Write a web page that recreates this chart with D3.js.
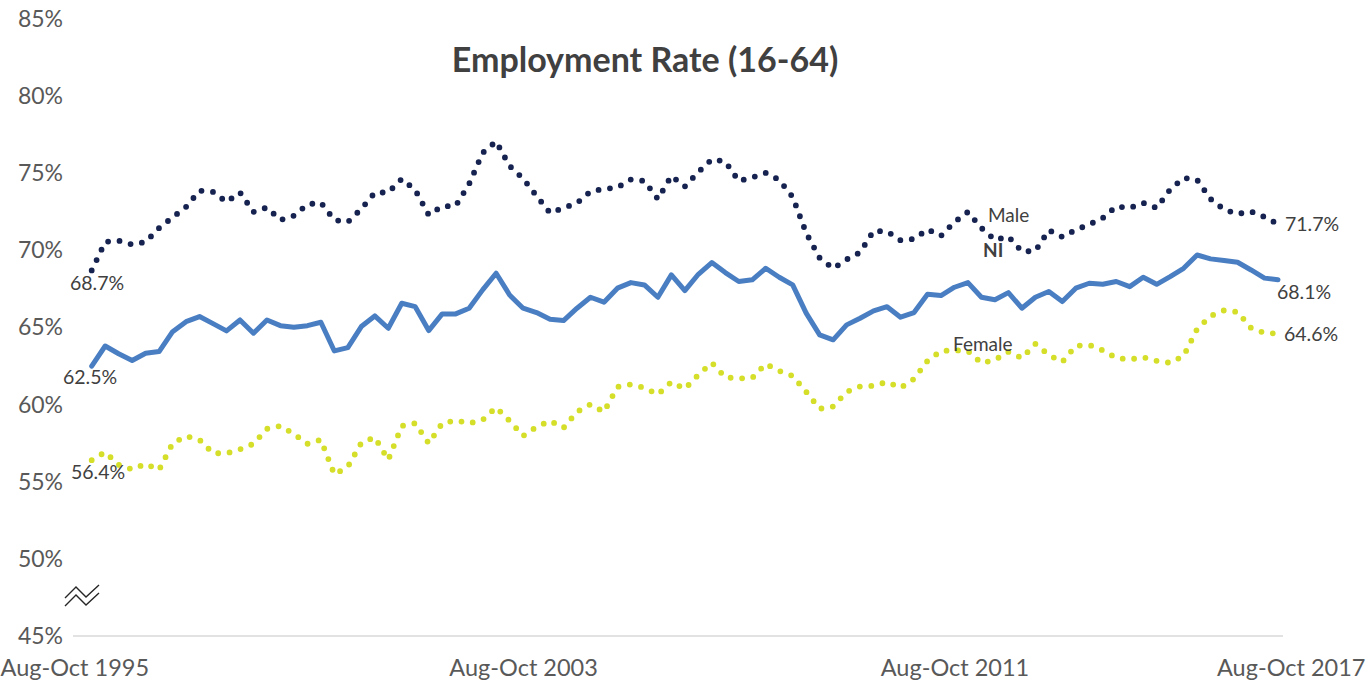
<!DOCTYPE html>
<html lang="en">
<head>
  <meta charset="utf-8" />
  <title>Employment Rate (16-64)</title>
  <style>
    body { margin: 0; background: #fff; }
    svg text { font-family: Lato, "Open Sans", sans-serif; }
  </style>
  <script src="https://d3js.org/d3.v7.min.js"></script>
</head>
<body>
<script>

// quarterly periods, Aug-Oct 1995 to Aug-Oct 2017
const periods = ["Aug-Oct", "Nov-Jan", "Feb-Apr", "May-Jul"];
const startYear = 1995, endYear = 2017;

const tickLabels = ["Aug-Oct 1995", "Aug-Oct 2003", "Aug-Oct 2011", "Aug-Oct 2017"];
const yTicks = [45, 50, 55, 60, 65, 70, 75, 80, 85];

const niValues = [62.5, 63.8, 63.3, 62.86, 63.33, 63.44, 64.73, 65.38, 65.71, 65.25,
  64.78, 65.49, 64.63, 65.49, 65.12, 65.02, 65.12, 65.34, 63.48, 63.7,
  65.06, 65.75, 64.95, 66.57, 66.35, 64.8, 65.88, 65.88, 66.25, 67.44,
  68.52, 67.11, 66.25, 65.97, 65.54, 65.45, 66.25, 66.96, 66.64, 67.55,
  67.91, 67.76, 66.96, 68.41, 67.39, 68.45, 69.21, 68.56, 67.98, 68.09,
  68.84, 68.26, 67.76, 65.93, 64.52, 64.2, 65.17, 65.6, 66.08, 66.35,
  65.67, 65.97, 67.16, 67.07, 67.61, 67.91, 66.96, 66.8, 67.26, 66.25,
  66.96, 67.33, 66.68, 67.55, 67.87, 67.8, 67.98, 67.65, 68.26, 67.8,
  68.3, 68.84, 69.7, 69.45, 69.34, 69.23, 68.73, 68.2, 68.1];

const maleValues = [68.7, 70.55, 70.63, 70.38, 70.55, 71.45, 72.14, 72.82, 73.87, 73.79,
  73.14, 73.76, 72.49, 72.78, 71.97, 72.25, 72.98, 73.1, 71.97, 71.84,
  72.69, 73.74, 73.76, 74.63, 73.92, 72.3, 72.86, 72.88, 74.31, 76.32,
  77.06, 75.47, 74.66, 73.53, 72.43, 72.75, 73.07, 73.82, 73.98, 74.08,
  74.6, 74.5, 73.33, 74.83, 74.14, 75.08, 75.9, 75.76, 74.5, 74.73,
  75.02, 74.57, 73.46, 71.13, 69.51, 68.83, 69.41, 69.87, 71.26, 71.23,
  70.65, 70.74, 71.36, 70.94, 71.84, 72.49, 71.45, 70.68, 70.9, 69.93,
  69.96, 71.31, 70.87, 71.33, 71.68, 72.1, 72.85, 72.75, 73.08, 72.75,
  73.95, 74.7, 74.57, 73.33, 72.65, 72.36, 72.52, 72.17, 71.7];

const femaleValues = [56.4, 56.92, 56.1, 55.8, 56.16, 55.77, 57.49, 57.96, 57.72, 56.85,
  56.84, 57.1, 57.46, 58.43, 58.62, 58.1, 57.46, 57.72, 55.48, 55.97,
  57.52, 57.88, 56.42, 58.62, 58.79, 57.49, 58.79, 58.98, 58.79, 59.01,
  59.82, 58.95, 57.97, 58.56, 58.95, 58.49, 59.53, 60.02, 59.53, 61.15,
  61.31, 61.09, 60.66, 61.47, 61.02, 61.93, 62.72, 61.77, 61.7, 61.73,
  62.64, 62.19, 61.86, 60.83, 59.73, 59.88, 60.83, 61.18, 61.22, 61.47,
  61.09, 61.67, 62.84, 63.48, 63.53, 63.48, 62.7, 62.9, 63.42, 63.02,
  63.94, 63.22, 62.77, 63.81, 63.87, 63.52, 63.03, 62.93, 63.07, 62.84,
  62.71, 63.16, 64.9, 65.75, 66.11, 66.01, 64.97, 64.65, 64.6];

// build the category list from the periods
const categories = [];
for (let yr = startYear; yr <= endYear; yr++) {
  periods.forEach((p, k) => {
    if (yr === endYear && k > 0) return;
    const label = k === 0 ? p + " " + yr : p + " " + (k === 1 ? yr + "/" + (yr + 1) : yr + 1);
    categories.push(label);
  });
}

const width = 1368, height = 682;
const svg = d3.select("body").append("svg")
  .attr("width", width)
  .attr("height", height);

const x = d3.scalePoint()
  .domain(categories)
  .range([91.7, 1278]);

const y = d3.scaleLinear()
  .domain([45, 85])
  .range([636, 19]);

// title
svg.append("text")
  .attr("x", 645).attr("y", 72)
  .attr("text-anchor", "middle")
  .style("font-size", "34px").style("font-weight", "bold")
  .attr("fill", "#404040")
  .text("Employment Rate (16-64)");

// y axis (labels only)
const yAxis = svg.append("g")
  .attr("transform", "translate(63,0)")
  .call(d3.axisLeft(y).tickValues(yTicks).tickSize(0).tickPadding(0).tickFormat(d => d + "%"));
yAxis.select(".domain").remove();
yAxis.selectAll("text").style("font-size", "23px").attr("fill", "#595959");

// x axis
const xAxis = svg.append("g")
  .attr("transform", "translate(0,636)")
  .call(d3.axisBottom(x).tickValues(tickLabels).tickSize(0).tickPadding(0));
xAxis.select(".domain").attr("stroke", "#d9d9d9").attr("stroke-width", 1.3)
  .attr("d", "M73,0H1283");
xAxis.selectAll("text")
  .style("font-size", "23.5px").attr("fill", "#595959")
  .attr("y", 40).attr("dy", 0)
  .attr("text-anchor", d => d === tickLabels[0] ? "start" : d === tickLabels[3] ? "end" : "middle")
  .attr("dx", d => d === tickLabels[0] ? -x(d) : d === tickLabels[3] ? (1365 - x(d)) : 0);

// axis break mark
const brk = svg.append("g").attr("fill", "none").attr("stroke", "#262626").attr("stroke-width", 1.4);
[0, 8].forEach(off => {
  brk.append("path").attr("d", `M65,${598 + off}L76,${587 + off}L86,${597 + off}L99,${585 + off}`);
});

const line = d3.line()
  .x((d, i) => x(categories[i]))
  .y(d => y(d));

// NI solid
svg.append("path")
  .datum(niValues)
  .attr("fill", "none")
  .attr("stroke", "#4a7ec2")
  .attr("stroke-width", 5)
  .attr("stroke-linejoin", "round")
  .attr("stroke-linecap", "round")
  .attr("d", line);

// Male dotted
svg.append("path")
  .datum(maleValues)
  .attr("fill", "none")
  .attr("stroke", "#16224f")
  .attr("stroke-width", 5.8)
  .attr("stroke-linecap", "round")
  .attr("stroke-dasharray", "0 11.5")
  .attr("d", line);

// Female dotted
svg.append("path")
  .datum(femaleValues)
  .attr("fill", "none")
  .attr("stroke", "#d5df29")
  .attr("stroke-width", 5.8)
  .attr("stroke-linecap", "round")
  .attr("stroke-dasharray", "0 11.5")
  .attr("d", line);

// end-point labels
const last = categories.length - 1;
const labels = [
  {t: maleValues[0].toFixed(1) + "%", x: 70, y: y(maleValues[0]) + 20},
  {t: niValues[0].toFixed(1) + "%", x: 63, y: y(niValues[0]) + 18},
  {t: femaleValues[0].toFixed(1) + "%", x: 71, y: y(femaleValues[0]) + 19},
  {t: maleValues[last].toFixed(1) + "%", x: x(categories[last]) + 7, y: y(maleValues[last]) + 7},
  {t: niValues[last].toFixed(1) + "%", x: x(categories[last]) - 1, y: y(niValues[last]) + 19},
  {t: femaleValues[last].toFixed(1) + "%", x: x(categories[last]) + 6, y: y(femaleValues[last]) + 7}
];
svg.selectAll("text.lab")
  .data(labels)
  .join("text")
  .attr("class", "lab")
  .attr("x", d => d.x).attr("y", d => d.y)
  .style("font-size", "19.5px").attr("fill", "#404040")
  .text(d => d.t);

// series names
svg.append("text").attr("x", 988).attr("y", 222)
  .style("font-size", "19px").attr("fill", "#404040").text("Male");
svg.append("text").attr("x", 983).attr("y", 257)
  .style("font-size", "19px").style("font-weight", "bold").attr("fill", "#404040").text("NI");
svg.append("text").attr("x", 953).attr("y", 351)
  .style("font-size", "19px").attr("fill", "#404040").text("Female");

</script>
</body>
</html>
